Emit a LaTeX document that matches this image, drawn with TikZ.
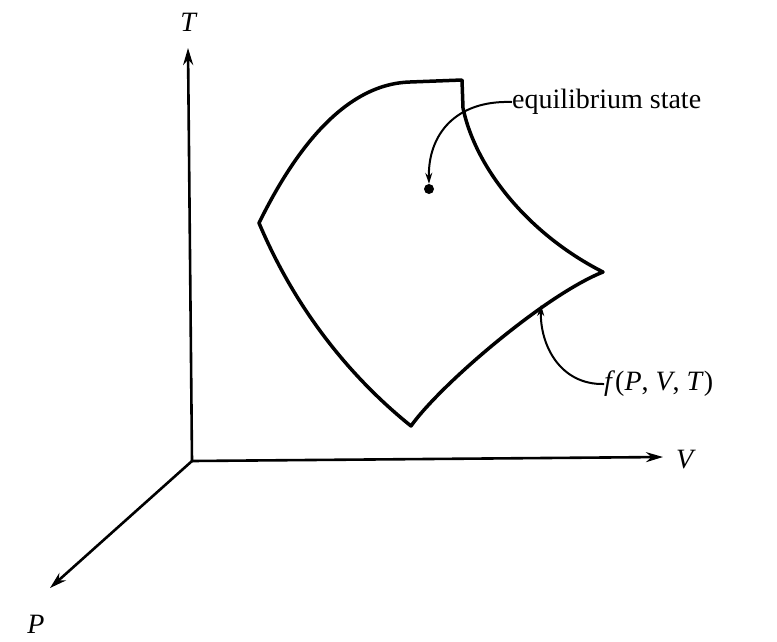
\documentclass[tikz,border=0pt]{standalone}
\usepackage{fontspec}
\setmainfont{Liberation Serif}
\usetikzlibrary{arrows.meta}
\begin{document}
\begin{tikzpicture}[x=1pt,y=-1pt,
  axis/.style={line width=2.6pt,-{Stealth[length=17pt,width=10pt]}},
  surf/.style={line width=3.5pt,line join=round},
  ptr/.style={line width=2pt,-{Stealth[length=11pt,width=7pt]}},
  lbl/.style={font=\fontsize{28}{32}\selectfont,inner sep=0pt}]
\useasboundingbox (0,0) rectangle (777,641);
\coordinate (O) at (192,461);
\coordinate (Tt) at (188,48);
\coordinate (Vt) at (663,457);
\coordinate (Pt) at (50,588);
\draw[axis] (O) -- (Tt);
\draw[axis] (O) -- (Vt);
\draw[axis] (O) -- (Pt);
\node[lbl] (T) at (189,22) {\textit{T}};
\node[lbl] (V) at (686,460) {\textit{V}};
\node[lbl] (P) at (36,624) {\textit{P}};
% surface
\coordinate (L) at (259,223);
\coordinate (Tp) at (462,80);
\coordinate (R) at (603,272);
\coordinate (B) at (411,426);
\draw[surf] (L) .. controls (290,160) and (340,84) .. (410,82) -- (Tp)
  -- (463,108) .. controls (476,170) and (530,235) .. (R)
  .. controls (545,295) and (440,385) .. (B)
  .. controls (360,385) and (300,320) .. (L) -- cycle;
\node[circle,fill,inner sep=0pt,minimum size=10pt] (dot) at (429,189) {};
\node[lbl,anchor=west] (eq) at (512,102) {equilibrium state};
\draw[ptr] (eq.west) .. controls (455,100) and (428,135) .. (dot.north);
\node[lbl,anchor=west] (f) at (604,384) {\textit{f}(\textit{P}, \textit{V}, \textit{T})};
\draw[ptr] (f.west) .. controls (560,385) and (540,345) .. (541,305);
\end{tikzpicture}
\end{document}
